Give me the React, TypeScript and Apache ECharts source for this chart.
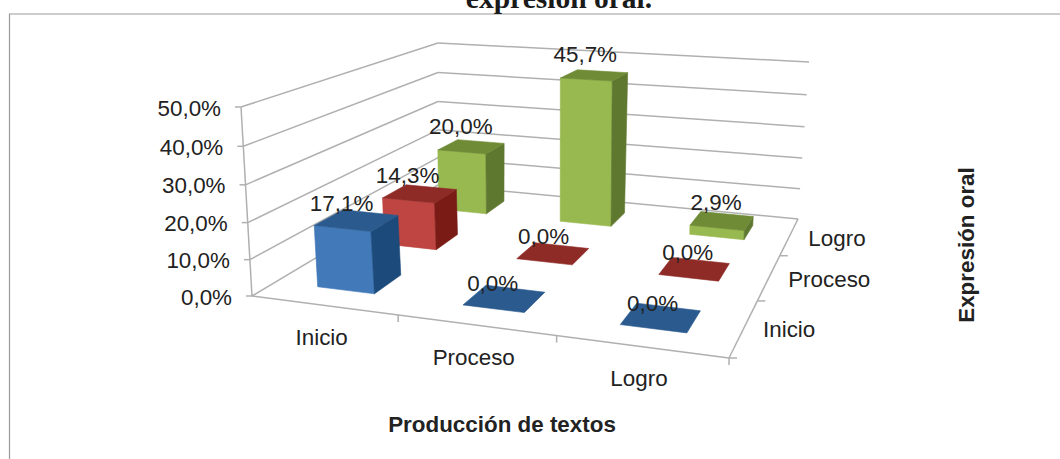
import React, { useEffect, useRef } from "react";
import * as echarts from "echarts";

const categories = ["Inicio", "Proceso", "Logro"];
const valueTicks = [0, 10, 20, 30, 40, 50];
const inicioValues = [17.1, 0, 0];
const procesoValues = [14.3, 0, 0];
const logroValues = [20.0, 45.7, 2.9];
const rows = [
  { name: "Inicio", row: 0, values: inicioValues, front: "#4179b9", top: "#2b5b8e", side: "#1c4a7b" },
  { name: "Proceso", row: 1, values: procesoValues, front: "#be4541", top: "#8e2b27", side: "#7a1b15" },
  { name: "Logro", row: 2, values: logroValues, front: "#98b94f", top: "#6f8b36", side: "#5f7830" },
];
const maxValue = 50;

type P = [number, number];
// Box corners of the plot as seen in the picture: front-left, front-right, back-right, back-left
const floorQuad: P[] = [[252, 296], [729, 358], [798, 219], [438, 185]];
const topQuad: P[] = [[241, 107], [717, 142], [809, 62], [438, 43]];

function homography(q: P[]) {
  const [[x0, y0], [x1, y1], [x2, y2], [x3, y3]] = q;
  const dx1 = x1 - x2, dx2 = x3 - x2, dx3 = x0 - x1 + x2 - x3;
  const dy1 = y1 - y2, dy2 = y3 - y2, dy3 = y0 - y1 + y2 - y3;
  const den = dx1 * dy2 - dx2 * dy1;
  const g = (dx3 * dy2 - dx2 * dy3) / den;
  const h = (dx1 * dy3 - dx3 * dy1) / den;
  const a = x1 - x0 + g * x1, b = x3 - x0 + h * x3, c = x0;
  const d = y1 - y0 + g * y1, e = y3 - y0 + h * y3, f = y0;
  return (u: number, v: number): P => {
    const w = g * u + h * v + 1;
    return [(a * u + b * v + c) / w, (d * u + e * v + f) / w];
  };
}
const floorH = homography(floorQuad);
const topH = homography(topQuad);

function project(u: number, v: number, value: number): P {
  const w = value / maxValue;
  const t = w / (1 + 0.05 * (1 - w));
  const p0 = floorH(u, v);
  const p1 = topH(u, v);
  return [p0[0] + (p1[0] - p0[0]) * t, p0[1] + (p1[1] - p0[1]) * t];
}

const FONT = '"Liberation Sans", Arial, sans-serif';
const AXIS = "#b0b0b0";
const TEXT = "#222222";
const pct = (v: number) => v.toFixed(1).replace(".", ",") + "%";

function label(text: string, pos: number[], align: string, size = 22.4, weight = "normal") {
  return {
    type: "text",
    silent: true,
    style: {
      text, x: pos[0], y: pos[1], fill: TEXT,
      font: `${weight} ${size}px ${FONT}`,
      align, verticalAlign: "middle", textAlign: align, textVerticalAlign: "middle",
    },
  };
}

function renderFrame(_: any, api: any) {
  const c = (u: number, v: number, val: number) => api.coord(project(u, v, val));
  const line = (a: number[], b: number[], width = 1.5) => ({
    type: "line",
    silent: true,
    shape: { x1: a[0], y1: a[1], x2: b[0], y2: b[1] },
    style: { stroke: AXIS, lineWidth: width },
  });
  const children: any[] = [];
  valueTicks.forEach((t) => {
    const fl = c(0, 0, t), bl = c(0, 1, t), br = c(1, 1, t);
    children.push(line(fl, bl), line(bl, br));
    children.push(line([fl[0] - 6, fl[1]], fl));
    children.push(label(pct(t), [fl[0] - 20, fl[1] + 1], "right"));
  });
  children.push(line(c(0, 0, 0), c(0, 0, maxValue)));
  children.push(line(c(0, 0, 0), c(1, 0, 0)));
  children.push(line(c(1, 0, 0), c(1, 1, 0)));
  categories.forEach((name, i) => {
    const a = c((i + 1) / 3, 0, 0);
    children.push(line(a, [a[0], a[1] + 7]));
    const m = c((i + 0.5) / 3, 0, 0);
    children.push(label(name, [m[0] - 2, m[1] + 32], "center"));
    const b = c(1, i / 3, 0);
    children.push(line(b, [b[0] + 8, b[1]]));
    const n = c(1, (i + 0.5) / 3, 0);
    children.push(label(name, [n[0] + 19, n[1] + 2], "left"));
  });
  return { type: "group", children };
}

function renderBar(params: any, api: any) {
  const col = api.value(0), row = api.value(1), val = api.value(2);
  const s = rows.find((r) => r.row === row)!;
  const u0 = (col + 0.3) / 3, u1 = (col + 0.7) / 3;
  const v0 = (row + 0.3) / 3, v1 = (row + 0.7) / 3;
  const c = (u: number, v: number, h: number) => api.coord(project(u, v, h));
  const poly = (points: number[][], fill: string) => ({
    type: "polygon",
    silent: true,
    shape: { points },
    style: { fill, stroke: fill, lineWidth: 0.6 },
  });
  const children: any[] = [];
  if (val > 0) {
    children.push(poly([c(u0, v0, 0), c(u1, v0, 0), c(u1, v0, val), c(u0, v0, val)], s.front));
    children.push(poly([c(u1, v0, 0), c(u1, v1, 0), c(u1, v1, val), c(u1, v0, val)], s.side));
  }
  children.push(poly([c(u0, v0, val), c(u1, v0, val), c(u1, v1, val), c(u0, v1, val)], s.top));
  const a = c(u0, v0, val), b = c(u1, v0, val);
  children.push(label(pct(val), [(a[0] + b[0]) / 2 - 1, (a[1] + b[1]) / 2 - 25], "center"));
  return { type: "group", children };
}

export default function App() {
  const ref = useRef<HTMLDivElement>(null);
  useEffect(() => {
    document.body.style.margin = "0";
    const chart = echarts.init(ref.current!, undefined, { renderer: "svg" });
    const barSeries = [...rows].reverse().map((r) => ({
      type: "custom",
      name: r.name,
      coordinateSystem: "cartesian2d",
      clip: false,
      renderItem: renderBar,
      data: r.values.map((v, i) => [i, r.row, v]),
      encode: { x: 0, y: 1 },
      z: 3,
    }));
    chart.setOption({
      animation: false,
      backgroundColor: "#ffffff",
      grid: { left: 0, right: 0, top: 0, bottom: 0 },
      xAxis: { type: "value", min: 0, max: 1060, show: false },
      yAxis: { type: "value", min: 0, max: 459, inverse: true, show: false },
      graphic: [
        {
          type: "polyline",
          silent: true,
          shape: { points: [[9.5, 459], [9.5, 14], [1060, 14]] },
          style: { stroke: "#9a9a9a", lineWidth: 1.2, fill: "none" },
        },
        {
          type: "text",
          silent: true,
          style: {
            text: "expresión oral.", x: 559, y: 13, fill: "#1a1a1a",
            font: 'bold 29.5px "Liberation Serif", "Times New Roman", serif',
            textAlign: "center", textVerticalAlign: "bottom",
            align: "center", verticalAlign: "bottom",
          },
        },
        {
          type: "text",
          silent: true,
          style: {
            text: "Producción de textos", x: 502, y: 424, fill: TEXT,
            font: `bold 22.4px ${FONT}`,
            textAlign: "center", textVerticalAlign: "middle",
            align: "center", verticalAlign: "middle",
          },
        },
        {
          type: "text",
          silent: true,
          rotation: Math.PI / 2,
          x: 966,
          y: 245,
          style: {
            text: "Expresión oral", x: 0, y: 0, fill: TEXT,
            font: `bold 22.4px ${FONT}`,
            textAlign: "center", textVerticalAlign: "middle",
            align: "center", verticalAlign: "middle",
          },
        },
      ],
      series: [
        {
          type: "custom",
          name: "frame",
          coordinateSystem: "cartesian2d",
          clip: false,
          renderItem: renderFrame,
          data: [[0, 0]],
          encode: { x: 0, y: 1 },
          z: 1,
        },
        ...barSeries,
      ],
    });
    return () => chart.dispose();
  }, []);
  return <div ref={ref} style={{ position: "absolute", left: 0, top: 0, width: 1060, height: 459 }} />;
}
